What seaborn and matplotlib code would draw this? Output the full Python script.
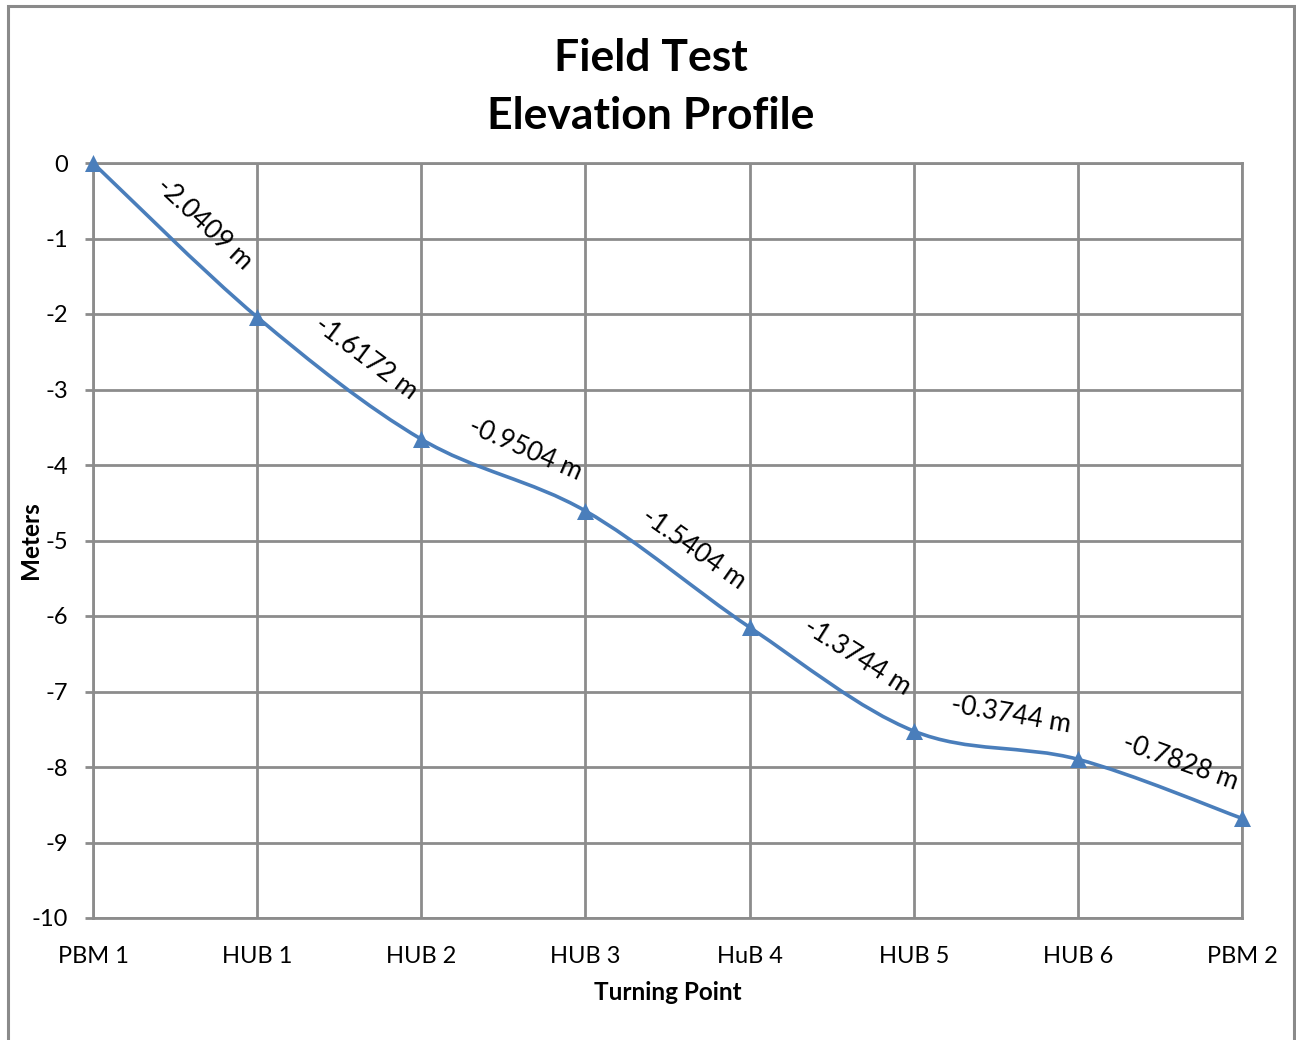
import numpy as np
import pandas as pd
import matplotlib
matplotlib.use("Agg")
import matplotlib.pyplot as plt
import seaborn as sns
from matplotlib.path import Path
from matplotlib.patches import PathPatch, Rectangle

turning_points = ["PBM 1", "HUB 1", "HUB 2", "HUB 3", "HuB 4", "HUB 5", "HUB 6", "PBM 2"]
elevations = [0.0, -2.0409, -3.6581, -4.6085, -6.1489, -7.5233, -7.8977, -8.6805]
segment_labels = ["-2.0409 m", "-1.6172 m", "-0.9504 m", "-1.5404 m",
                  "-1.3744 m", "-0.3744 m", "-0.7828 m"]
y_ticks = list(range(0, -11, -1))

sns.set_style("white")
plt.rcParams['font.family'] = ['Lato', 'DejaVu Sans']
plt.rcParams['text.color'] = 'black'
plt.rcParams['axes.labelcolor'] = 'black'
plt.rcParams['xtick.color'] = 'black'
plt.rcParams['ytick.color'] = 'black'

W, H = 1296, 1040
LINE = "#4a7ebb"
GRID = "#8c8c8c"

fig = plt.figure(figsize=(W / 100, H / 100), dpi=100)
ax = fig.add_axes([93 / W, 1 - 918 / H, (1242 - 93) / W, (918 - 163) / H])

df = pd.DataFrame({"x": np.arange(len(turning_points)), "y": elevations,
                   "tp": turning_points})

# smoothed line (Excel-style Catmull-Rom Bezier through data points)
pts = df[["x", "y"]].to_numpy(dtype=float)
n = len(pts)
verts = [pts[0]]
codes = [Path.MOVETO]
for i in range(n - 1):
    p0 = pts[i - 1] if i > 0 else pts[i]
    p1 = pts[i]
    p2 = pts[i + 1]
    p3 = pts[i + 2] if i + 2 < n else pts[i + 1]
    c1 = p1 + (p2 - p0) / 6.0
    c2 = p2 - (p3 - p1) / 6.0
    verts += [c1, c2, p2]
    codes += [Path.CURVE4] * 3
ax.add_patch(PathPatch(Path(verts, codes), facecolor="none", edgecolor=LINE,
                       lw=2.6, zorder=3, clip_on=False))

sns.scatterplot(data=df, x="x", y="y", marker="^", s=150, color=LINE,
                edgecolor=LINE, linewidth=0, zorder=4, clip_on=False, ax=ax,
                legend=False)

ax.set_xlim(0, len(turning_points) - 1)
ax.set_ylim(-10, 0)
ax.set_xticks(df["x"])
ax.set_xticklabels(turning_points)
ax.set_yticks(y_ticks)
ax.set_yticklabels([str(v) for v in y_ticks])
ax.grid(True, color=GRID, lw=2.0)
ax.set_axisbelow(True)
for s in ax.spines.values():
    s.set_visible(True)
    s.set_color(GRID)
    s.set_linewidth(2.0)
ax.tick_params(axis="y", length=6, width=2.0, color=GRID, pad=12,
               labelsize=17, left=True, labelcolor="black")
ax.tick_params(axis="x", length=0, pad=20, labelsize=17, labelcolor="black")
ax.set_xlabel("Turning Point", fontsize=17.5, fontweight="bold")
ax.set_ylabel("Meters", fontsize=17.5, fontweight="bold")
ax.xaxis.set_label_coords((668 - 93) / (1242 - 93), -(993 - 918) / (918 - 163))
ax.yaxis.set_label_coords(-(93 - 31) / (1242 - 93), (918 - 540) / (918 - 163))
ax.xaxis.label.set_va("center")
ax.yaxis.label.set_va("center")

# segment labels
trans = ax.transData
for i, lab in enumerate(segment_labels):
    a = trans.transform(pts[i])
    b = trans.transform(pts[i + 1])
    d = b - a
    ang = np.degrees(np.arctan2(d[1], d[0]))
    u = d / np.hypot(*d)
    nrm = np.array([-u[1], u[0]])
    off = nrm * 32 + u * 10
    mid = (pts[i] + pts[i + 1]) / 2
    ax.annotate(lab, xy=mid, xytext=off, textcoords="offset pixels",
                rotation=ang, rotation_mode="anchor", ha="center",
                va="center", fontsize=19, color="black", zorder=5)

fig.text(651 / W, 1 - 58 / H, "Field Test", ha="center", va="center",
         fontsize=32, fontweight="bold")
fig.text(651 / W, 1 - 116 / H, "Elevation Profile", ha="center", va="center",
         fontsize=32, fontweight="bold")

fig.patches.append(Rectangle((8 / W, -0.05), (1294 - 8) / W, 1.05 - 6 / H,
                             transform=fig.transFigure, fill=False,
                             edgecolor="#8a8a8a", lw=2.2))

fig.savefig("out.png", dpi=100)
